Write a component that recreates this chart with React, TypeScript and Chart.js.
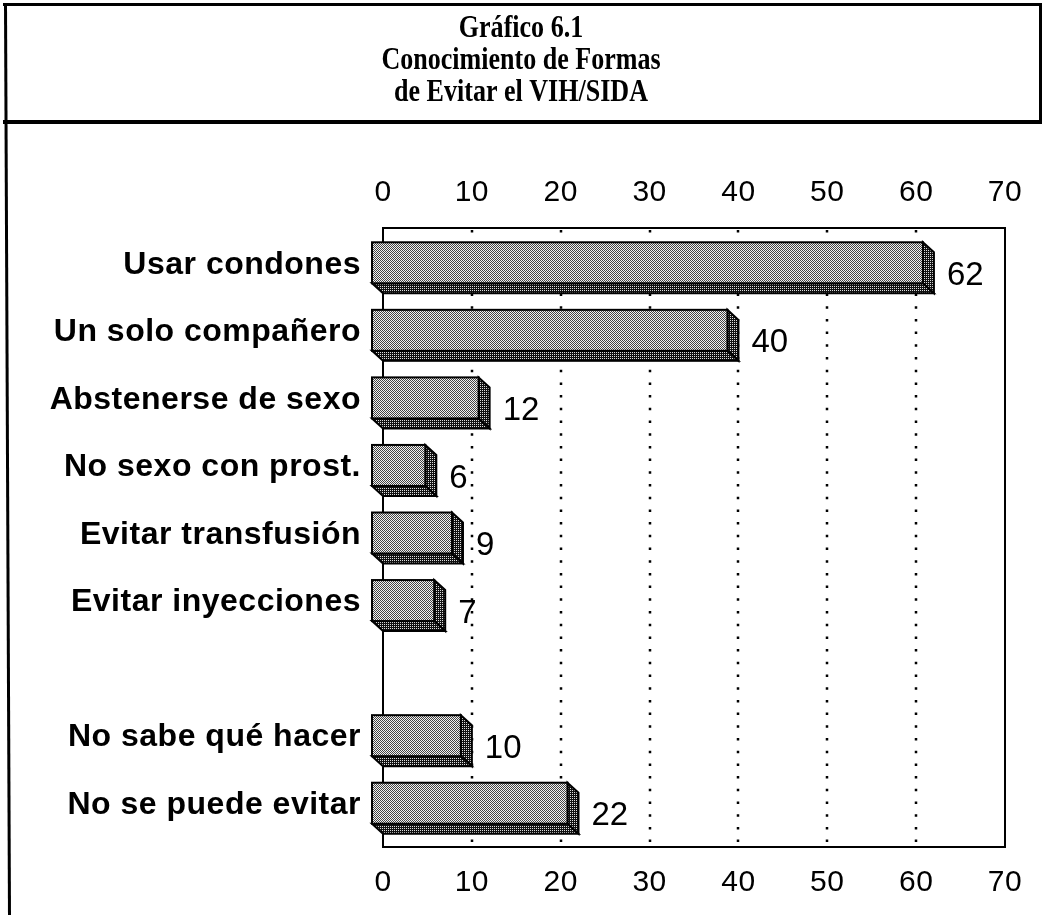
import React, { useEffect, useRef } from 'react';
import { Chart, registerables } from 'chart.js';

Chart.register(...registerables);

// ---- data ----
const TITLE_LINES = ['Gráfico 6.1', 'Conocimiento de Formas', 'de Evitar el VIH/SIDA'];
const CATEGORIES = [
  'Usar condones',
  'Un solo compañero',
  'Abstenerse de sexo',
  'No sexo con prost.',
  'Evitar transfusión',
  'Evitar inyecciones',
  '',
  'No sabe qué hacer',
  'No se puede evitar',
];
const VALUES: (number | null)[] = [62, 40, 12, 6, 9, 7, null, 10, 22];
const X_MIN = 0;
const X_MAX = 70;
const X_STEP = 10;

// ---- style constants ----
const W = 1042;
const H = 915;
const DX = 11; // 3D depth
const DY = 10;

function makePattern(ctx: CanvasRenderingContext2D, a: string, b: string, c: string, d: string) {
  const p = document.createElement('canvas');
  p.width = 2;
  p.height = 2;
  const g = p.getContext('2d')!;
  g.fillStyle = a; g.fillRect(0, 0, 1, 1);
  g.fillStyle = b; g.fillRect(1, 0, 1, 1);
  g.fillStyle = c; g.fillRect(0, 1, 1, 1);
  g.fillStyle = d; g.fillRect(1, 1, 1, 1);
  return ctx.createPattern(p, 'repeat')!;
}

export default function App() {
  const ref = useRef<HTMLCanvasElement>(null);

  useEffect(() => {
    const canvas = ref.current!;
    const ctx = canvas.getContext('2d')!;
    const light = makePattern(ctx, '#444444', '#f2f2f2', '#f2f2f2', '#444444');
    const dark = makePattern(ctx, '#dddddd', '#111111', '#111111', '#111111');

    const decor = {
      id: 'decor',
      beforeDraw(chart: any) {
        const c = chart.ctx as any;
        c.save();
        c.letterSpacing = '0px';
        c.fillStyle = '#ffffff';
        c.fillRect(0, 0, W, H);
        c.fillStyle = '#000';
        // outer frame
        c.fillRect(3, 3, W - 3, 3); // top
        c.fillRect(W - 3, 3, 3, 121); // right (title part)
        c.fillRect(3, 120, W - 3, 4); // separator
        c.strokeStyle = '#000';
        c.lineWidth = 3;
        c.beginPath();
        c.moveTo(5.5, 3);
        c.lineTo(9.5, H);
        c.stroke();
        // title (condensed bold serif)
        c.font = 'bold 31px "Liberation Serif"';
        c.textAlign = 'center';
        c.textBaseline = 'middle';
        const ys = [29, 61, 93];
        TITLE_LINES.forEach((t, i) => {
          c.save();
          c.translate(521, ys[i]);
          c.scale(0.84, 1);
          c.fillText(t, 0, 0);
          c.restore();
        });
        c.restore();
        c.letterSpacing = '0.5px';
      },
      beforeDatasetsDraw(chart: any) {
        const c = chart.ctx as CanvasRenderingContext2D;
        const a = chart.chartArea;
        const xs = chart.scales.x;
        const boxTop = a.top - DY - 1;
        c.save();
        // dotted grid lines
        c.strokeStyle = '#000';
        c.lineWidth = 2.5;
        c.setLineDash([2.5, 10.2]);
        for (let v = X_MIN + X_STEP; v < X_MAX; v += X_STEP) {
          const px = Math.round(xs.getPixelForValue(v));
          c.beginPath();
          c.moveTo(px, boxTop + 2);
          c.lineTo(px, a.bottom);
          c.stroke();
        }
        c.setLineDash([]);
        c.lineWidth = 2;
        c.strokeRect(a.left, boxTop, a.right - a.left, a.bottom - boxTop);
        c.restore();
      },
      afterDatasetsDraw(chart: any) {
        const c = chart.ctx as any;
        const meta = chart.getDatasetMeta(0);
        c.save();
        c.letterSpacing = '0px';
        c.strokeStyle = '#000';
        c.lineWidth = 2;
        c.lineJoin = 'miter';
        meta.data.forEach((el: any, i: number) => {
          const v = VALUES[i];
          if (v == null) return;
          const { x, y, base, height } = el.getProps(['x', 'y', 'base', 'height'], true);
          const top = y - height / 2;
          const bot = y + height / 2;
          // right side
          c.fillStyle = dark;
          c.beginPath();
          c.moveTo(x - DX, top - DY);
          c.lineTo(x, top);
          c.lineTo(x, bot);
          c.lineTo(x - DX, bot - DY);
          c.closePath();
          c.fill();
          c.stroke();
          // bottom side
          c.beginPath();
          c.moveTo(base - DX, bot - DY);
          c.lineTo(x - DX, bot - DY);
          c.lineTo(x, bot);
          c.lineTo(base, bot);
          c.closePath();
          c.fill();
          c.stroke();
          // front face
          c.fillStyle = light;
          c.fillRect(base - DX, top - DY, x - base, bot - top);
          c.strokeRect(base - DX, top - DY, x - base, bot - top);
          // value label
          c.fillStyle = '#000';
          c.font = '33px "Liberation Sans"';
          c.textAlign = 'left';
          c.textBaseline = 'middle';
          c.fillText(String(v), x + 13, y + 3);
        });
        c.restore();
      },
    };

    const tickFont = { family: '"Liberation Sans"', size: 30 };

    const chart = new Chart(canvas, {
      type: 'bar',
      data: {
        labels: CATEGORIES,
        datasets: [
          {
            data: VALUES as any,
            backgroundColor: dark as any,
            borderColor: '#000',
            borderWidth: 0,
            barThickness: 41,
          },
        ],
      },
      options: {
        indexAxis: 'y',
        animation: false,
        responsive: false,
        devicePixelRatio: 1,
        layout: { padding: { left: 0, right: 37, top: 150, bottom: 0 } },
        plugins: { legend: { display: false }, tooltip: { enabled: false }, title: { display: false } },
        scales: {
          x: {
            type: 'linear',
            position: 'bottom',
            min: X_MIN,
            max: X_MAX,
            grid: { display: false },
            border: { display: false },
            ticks: { stepSize: X_STEP, font: tickFont, color: '#000', padding: 10, maxRotation: 0 },
            afterFit: (s: any) => { s.height = 68; },
          },
          x2: {
            type: 'linear',
            position: 'top',
            min: X_MIN,
            max: X_MAX,
            grid: { display: false },
            border: { display: false },
            ticks: { stepSize: X_STEP, font: tickFont, color: '#000', padding: 20, maxRotation: 0 },
            afterFit: (s: any) => { s.height = 89; },
          },
          y: {
            type: 'category',
            offset: true,
            grid: { display: false },
            border: { display: false },
            ticks: {
              font: { family: '"Liberation Sans"', size: 32, weight: 'bold' },
              color: '#000',
              padding: 14,
              labelOffset: -8,
              autoSkip: false,
            },
            afterFit: (s: any) => { s.width = 383; },
          },
        },
      },
      plugins: [decor],
    });
    return () => chart.destroy();
  }, []);

  return (
    <div style={{ position: 'fixed', left: 0, top: 0, width: W, height: H, background: '#fff' }}>
      <canvas ref={ref} width={W} height={H} style={{ display: 'block', width: W, height: H }} />
    </div>
  );
}
